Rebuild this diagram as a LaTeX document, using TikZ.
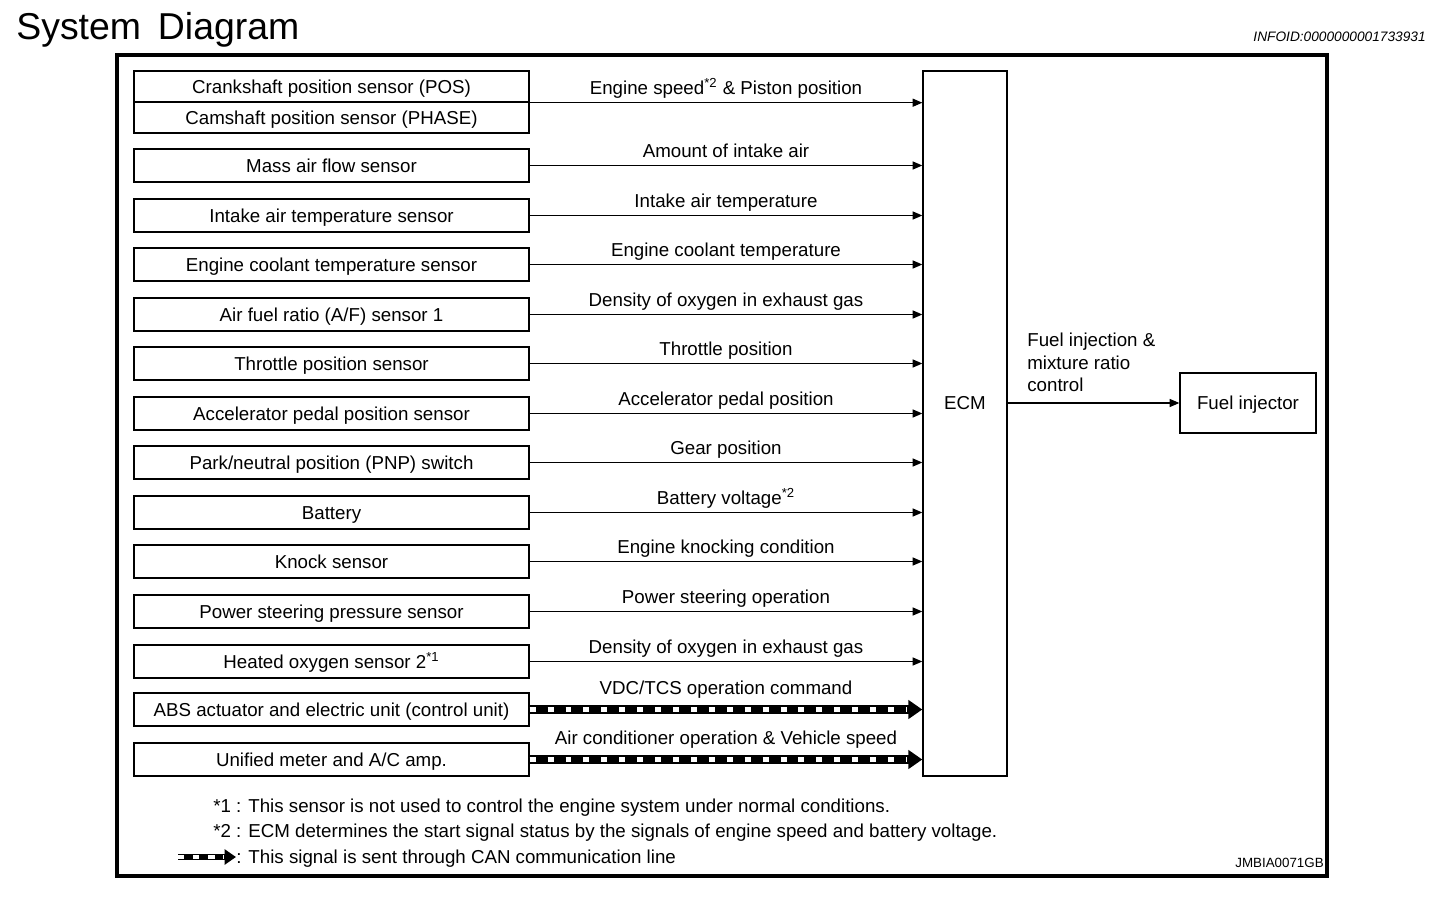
\documentclass[tikz,border=0pt]{standalone}
\usepackage{fontspec}
\setmainfont{Liberation Sans}
\usetikzlibrary{arrows.meta,positioning,calc}

\begin{document}
\begin{tikzpicture}[
  x=0.02cm,y=-0.02cm,
  font=\fontsize{10.65}{12.7}\selectfont,
  sensor/.style={draw=black,line width=.8pt,fill=white,minimum width=7.9cm,
                 minimum height=.66cm,inner sep=0pt,text height=9.6pt,text depth=1.8pt},
  half/.style={sensor,minimum height=.62cm},
  sig/.style={-{Triangle[length=5.5pt,width=4.6pt]},line width=.6pt},
  can/.style={-{Triangle[length=8pt,width=10.5pt]},line width=4.8pt,
              postaction={draw=white,-,line width=2.4pt,shorten >=9pt,
                          dash pattern=on 3.4pt off 6.8pt}},
  cankey/.style={-{Triangle[length=6.5pt,width=8.5pt]},line width=3.6pt,
              postaction={draw=white,-,line width=1.8pt,shorten >=7pt,
                          dash pattern=on 3.6pt off 5pt}},
  lbl/.style={midway,above=1pt,inner sep=1pt,text depth=2.3pt},
  note/.style={anchor=west,inner sep=0pt,text height=9.6pt,text depth=1.8pt},
  every path/.style={line join=miter}
]
\useasboundingbox (0,0) rectangle (1456,898);

\node[anchor=west,inner sep=0pt,font=\fontsize{21.3}{24}\selectfont] (title)
  at (16,30) {System\hspace{.45em}Diagram};
\node[anchor=east,inner sep=0pt,font=\itshape\fontsize{7.8}{9}\selectfont] (infoid)
  at (1426,37) {INFOID:0000000001733931};
\draw[line width=2.2pt] (117,55) rectangle (1327,876);

% sensors and switches on the left
\node[half] (crank) at (331.5,86.5) {Crankshaft position sensor (POS)};
\node[half] (cam) at (331.5,117.5) {Camshaft position sensor (PHASE)};
\node[sensor] (maf) at (331.5,165.5) {Mass air flow sensor};
\node[sensor] (iat) at (331.5,215.5) {Intake air temperature sensor};
\node[sensor] (ect) at (331.5,264.5) {Engine coolant temperature sensor};
\node[sensor] (afs) at (331.5,314.5) {Air fuel ratio (A/F) sensor 1};
\node[sensor] (tps) at (331.5,363.5) {Throttle position sensor};
\node[sensor] (apps) at (331.5,413.5) {Accelerator pedal position sensor};
\node[sensor] (pnp) at (331.5,462.5) {Park/neutral position (PNP) switch};
\node[sensor] (batt) at (331.5,512.5) {Battery};
\node[sensor] (knock) at (331.5,561.5) {Knock sensor};
\node[sensor] (pss) at (331.5,611.5) {Power steering pressure sensor};
\node[sensor] (hos) at (331.5,661.5) {Heated oxygen sensor 2\textsuperscript{*1}};
\node[sensor] (abs) at (331.5,709.5) {ABS actuator and electric unit (control unit)};
\node[sensor] (meter) at (331.5,759.5) {Unified meter and A/C amp.};

% control module and actuator
\node[draw,line width=.8pt,minimum width=1.68cm,minimum height=14.1cm] (ecm)
  at (965,423.5) {};
\node[text height=9.6pt,text depth=1.8pt,inner sep=0pt] (ecmtxt) at (965,403) {ECM};
\node[draw,line width=.8pt,minimum width=2.72cm,minimum height=1.2cm,
  text height=9.6pt,text depth=1.8pt,inner sep=0pt] (inj) at (1248,403) {Fuel injector};

\draw[sig] (crank.south east) -- (crank.south east -| ecm.west)
  node[lbl] {Engine speed\textsuperscript{*2} \& Piston position};
\draw[sig] (maf.east) -- (maf.east -| ecm.west) node[lbl] {Amount of intake air};
\draw[sig] (iat.east) -- (iat.east -| ecm.west) node[lbl] {Intake air temperature};
\draw[sig] (ect.east) -- (ect.east -| ecm.west) node[lbl] {Engine coolant temperature};
\draw[sig] (afs.east) -- (afs.east -| ecm.west)
  node[lbl] {Density of oxygen in exhaust gas};
\draw[sig] (tps.east) -- (tps.east -| ecm.west) node[lbl] {Throttle position};
\draw[sig] (apps.east) -- (apps.east -| ecm.west) node[lbl] {Accelerator pedal position};
\draw[sig] (pnp.east) -- (pnp.east -| ecm.west) node[lbl] {Gear position};
\draw[sig] (batt.east) -- (batt.east -| ecm.west)
  node[lbl] {Battery voltage\textsuperscript{*2}};
\draw[sig] (knock.east) -- (knock.east -| ecm.west) node[lbl] {Engine knocking condition};
\draw[sig] (pss.east) -- (pss.east -| ecm.west) node[lbl] {Power steering operation};
\draw[sig] (hos.east) -- (hos.east -| ecm.west)
  node[lbl] {Density of oxygen in exhaust gas};
% CAN lines
\draw[can] (abs.east) -- (abs.east -| ecm.west)
  node[lbl,above=3pt] {VDC/TCS operation command};
\draw[can] (meter.east) -- (meter.east -| ecm.west)
  node[lbl,above=3pt] {Air conditioner operation \& Vehicle speed};

\draw[sig] (inj.west -| ecm.east) -- (inj.west);
\node[anchor=north west,align=left,inner sep=0pt,
  font=\fontsize{10.65}{12.8}\selectfont] (injlbl) at (1027,333)
  {Fuel injection \&\\mixture ratio\\control};

% notes
\node[note] (note1) at (213,806)
  {*1 : This sensor is not used to control the engine system under normal conditions.};
\node[note] (note2) at (213,831)
  {*2 : ECM determines the start signal status by the signals of engine speed and battery voltage.};
\coordinate (keyA) at (178,857);
\coordinate (keyB) at (236,857);
\draw[cankey] (keyA) -- (keyB);
\node[note] (note3) at (keyB) {: This signal is sent through CAN communication line};
\node[anchor=east,inner sep=0pt,font=\fontsize{7.6}{9}\selectfont] (figid)
  at (1324,863) {JMBIA0071GB};
\end{tikzpicture}
\end{document}
